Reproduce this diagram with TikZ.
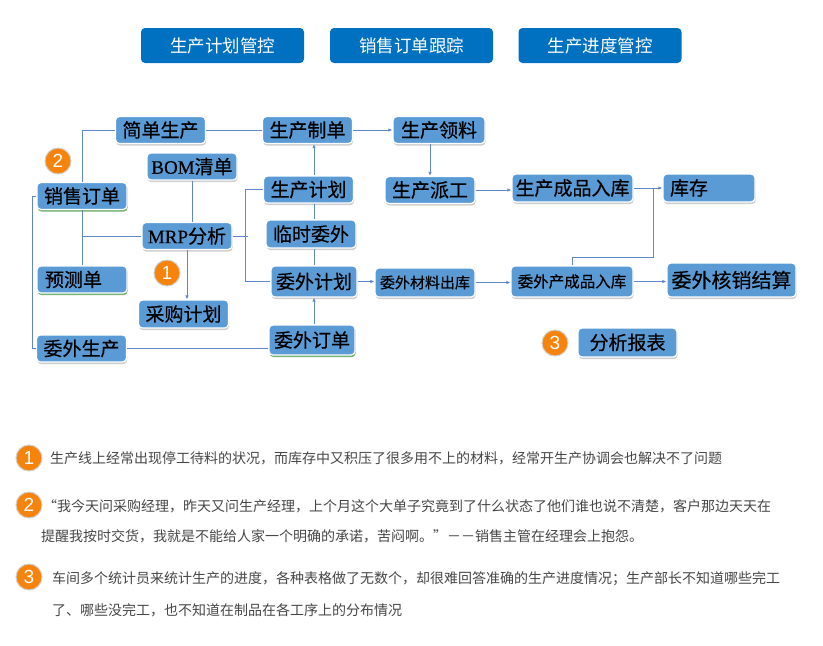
\documentclass[tikz,border=0pt]{standalone}
\usepackage{fontspec}
\setmainfont{Noto Sans CJK SC}
\newfontfamily\boxfont[FakeBold=0.4]{Noto Sans CJK SC}
\newfontfamily\latinserif[FakeBold=0.4]{Liberation Serif}
\newfontfamily\numfont{Liberation Sans}
\usepackage{tikz}
\usetikzlibrary{arrows.meta,positioning,shadows}
\definecolor{procblue}{RGB}{91,155,213}
\definecolor{tabblue}{RGB}{0,112,192}
\definecolor{linkblue}{RGB}{96,134,204}
\definecolor{dotorange}{RGB}{246,132,12}
\definecolor{notegray}{RGB}{70,70,70}

\begin{document}
\begin{tikzpicture}[
    x=1pt, y=-1pt,
    every node/.style={inner sep=0pt},
    procbox/.style={fill=procblue, draw=white, line width=1.2pt, rounded corners=4pt, minimum width=90pt, minimum height=27pt, align=center, font=\boxfont\fontsize{19}{22}\selectfont,
        drop shadow={shadow xshift=0.6pt, shadow yshift=-2.2pt, fill=#1, opacity=0.55}},
    procbox/.default=black!35,
    tabbox/.style={fill=tabblue, rounded corners=4pt, minimum width=163pt, minimum height=35pt, text=white, font=\fontsize{17.5}{18}\selectfont},
    numdot/.style={circle, fill=dotorange, draw=black!18, line width=1pt, minimum size=26pt, text=white, font=\numfont\fontsize{19}{19}\selectfont},
    note/.style={anchor=west, text=notegray, font=\fontsize{14}{14}\selectfont},
    link/.style={draw=linkblue, line width=0.9pt},
    arr/.style={link, -{Latex[length=4pt, width=3.5pt]}}
]
\useasboundingbox (0,0) rectangle (823,646);

% top tabs
\node[tabbox] (tabplan) at (222.5,45.5) {生产计划管控};
\node[tabbox] (tabsale) at (411.5,45.5) {销售订单跟踪};
\node[tabbox] (tabprog) at (600,45.5) {生产进度管控};

% sources on the left
\node[procbox=green!45!black] (salesorder) at (82,196) {销售订单};
\node[procbox=green!45!black, text width=74pt, align=left] (forecast) at (82,279.5) {预测单};
\node[procbox] (outsrcprod) at (81.5,348.5) {委外生产};
\node[procbox] (simpleprod) at (160.5,130) {简单生产};
\node[procbox] (bom) at (192,166.5) {{\latinserif BOM}清单};
\node[procbox] (mrp) at (187,236) {{\latinserif MRP}分析};
\node[procbox, minimum height=28pt] (purchase) at (183.5,314) {采购计划};

% production chain
\node[procbox] (makeorder) at (307.5,130) {生产制单};
\node[procbox, minimum width=92pt] (picking) at (439,130) {生产领料};
\node[procbox] (prodplan) at (308.5,189.5) {生产计划};
\node[procbox] (dispatch) at (430,190) {生产派工};
\node[procbox, minimum height=28pt] (tempout) at (311,234) {临时委外};
\node[procbox, minimum width=86pt, minimum height=31pt] (outplan) at (314,281.5) {委外计划};
\node[procbox=green!45!black, minimum width=86pt, minimum height=30pt] (outorder) at (312,340) {委外订单};
\node[procbox, minimum width=100pt, minimum height=29pt, font=\boxfont\fontsize{15}{15}\selectfont] (outissue) at (425,282.5) {委外材料出库};

% stock and settlement
\node[procbox, minimum width=121pt, minimum height=28pt] (finstock) at (572.5,188) {生产成品入库};
\node[procbox, text width=78pt, align=left, minimum width=92pt, minimum height=28pt] (stock) at (709,188) {库存};
\node[procbox, minimum width=122pt, minimum height=31pt, font=\boxfont\fontsize{15.5}{16}\selectfont] (outfin) at (572,281.5) {委外产成品入库};
\node[procbox, minimum width=129pt, minimum height=34pt, font=\boxfont\fontsize{20}{20}\selectfont] (outsettle) at (731.5,280) {委外核销结算};
\node[procbox, minimum width=99pt, minimum height=29pt] (report) at (627.5,342.5) {分析报表};

% markers
\node[numdot] (dot2) at (58,161) {2};
\node[numdot] (dot1) at (167,273) {1};
\node[numdot] (dot3) at (555,343) {3};

% links
\draw[link] (salesorder.north) |- (simpleprod.west);
\draw[link] (salesorder.south) -- (forecast.north);
\draw[link] (salesorder.south |- mrp.west) -- (mrp.west);
\draw[link] (salesorder.west) -| ([xshift=-3pt]outsrcprod.west) -- (outsrcprod.west);
\draw[link] (outsrcprod.east) -- (outsrcprod.east -| outorder.west);
\draw[link] (bom.south) -- (bom.south |- mrp.north);
\draw[arr] (mrp.south) -- (mrp.south |- purchase.north);
\draw[link] (mrp.east) -- ++(15,0);
\draw[link] (prodplan.west) -- ++(-17,0) |- (outplan.west);
\draw[link] (simpleprod.east) -- (makeorder.west);
\draw[arr] (outplan.north |- prodplan.north) -- (outplan.north |- makeorder.south);
\draw[link] (outplan.north |- tempout.north) -- (outplan.north |- prodplan.south);
\draw[link] (outplan.north) -- (outplan.north |- tempout.south);
\draw[arr] (outplan.south |- outorder.north) -- (outplan.south);
\draw[arr] (makeorder.east) -- (picking.west);
\draw[arr] (dispatch.north |- picking.south) -- (dispatch.north);
\draw[arr] (dispatch.east) -- (dispatch.east -| finstock.west);
\draw[arr] (finstock.east) -- (stock.west);
\coordinate (merge) at (653,188);
\draw[link] (outfin.north) -- ++(0,-8) -| (merge);
\draw[arr] (outplan.east) -- (outplan.east -| outissue.west);
\draw[arr] (outissue.east) -- (outissue.east -| outfin.west);
\draw[arr] (outfin.east) -- (outfin.east -| outsettle.west);

% notes
\node[numdot] (dotA) at (29,458) {1};
\node[numdot] (dotB) at (29,505) {2};
\node[numdot] (dotC) at (29,577) {3};
\node[note] (noteA) at (50,458) {生产线上经常出现停工待料的状况，而库存中又积压了很多用不上的材料，经常开生产协调会也解决不了问题};
\node[note] (noteB) at (43,506) {“我今天问采购经理，昨天又问生产经理，上个月这个大单子究竟到了什么状态了他们谁也说不清楚，客户那边天天在};
\node[note] (noteB2) at (41,536) {提醒我按时交货，我就是不能给人家一个明确的承诺，苦闷啊。”－－销售主管在经理会上抱怨。};
\node[note] (noteC) at (52,579) {车间多个统计员来统计生产的进度，各种表格做了无数个，却很难回答准确的生产进度情况；生产部长不知道哪些完工};
\node[note] (noteC2) at (52,610) {了、哪些没完工，也不知道在制品在各工序上的分布情况};
\end{tikzpicture}
\end{document}
